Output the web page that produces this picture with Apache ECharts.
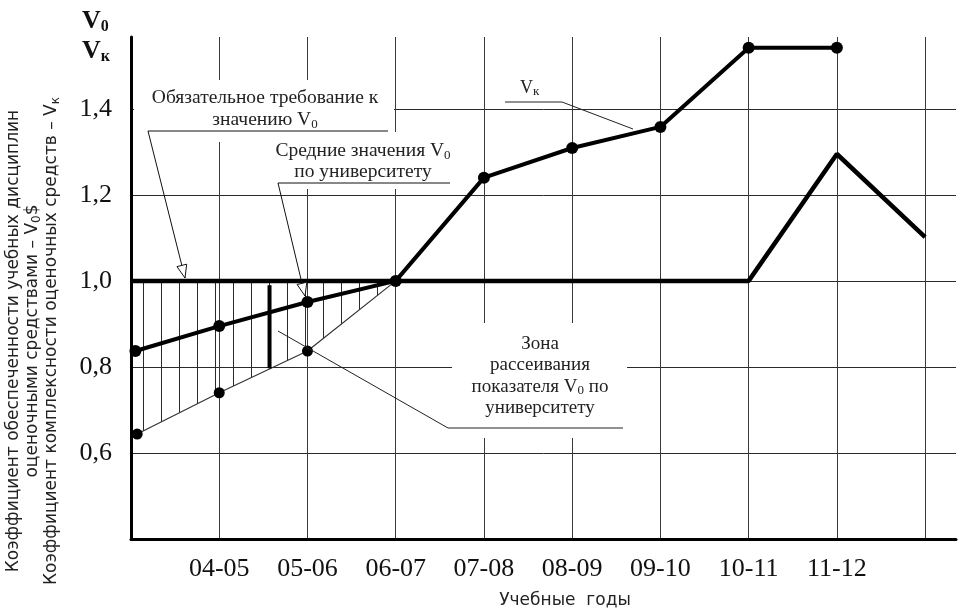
<!DOCTYPE html>
<html><head><meta charset="utf-8">
<script src="https://cdn.jsdelivr.net/npm/echarts@6/dist/echarts.min.js"></script>
<style>html,body{margin:0;padding:0;background:#fff}#c{width:959px;height:611px}</style>
</head><body><div id="c"></div>
<script>
// ---- data ----
const years = ['', '04-05', '05-06', '06-07', '07-08', '08-09', '09-10', '10-11', '11-12', ''];
const yTickValues = [0.6, 0.8, 1.0, 1.2, 1.4];
const yTickLabels = ['0,6', '0,8', '1,0', '1,2', '1,4'];
// average V0 by university (thick line with dots), continues as Vк
const avgIdx = [0.05, 1, 2, 3, 4, 5, 6, 7, 8];
const avgVal = [0.837, 0.895, 0.951, 1.0, 1.24, 1.309, 1.358, 1.542, 1.542];
// lower boundary of the scatter zone
const lowIdx = [0.07, 1, 2, 3];
const lowVal = [0.644, 0.74, 0.837, 1.0];
// required value of V0 and later V0 course
const reqIdx = [0, 7, 8, 9];
const reqVal = [1.0, 1.0, 1.295, 1.102];
// scatter range marker
const barIdx = [1.57, 1.57];
const barVal = [0.99, 0.797];
const zoneTop = 1.0;

const pairs = (xs, ys) => xs.map((x, i) => [x, ys[i]]);

const pc = document.createElement('canvas');
pc.width = 18; pc.height = 12;
const g = pc.getContext('2d');
g.fillStyle = '#2a2a2a';
g.fillRect(17, 0, 1, 12);

function head(x1, y1, x2, y2) {
  const dx = x2 - x1, dy = y2 - y1, L = Math.hypot(dx, dy);
  const ux = dx / L, uy = dy / L, len = 13, hw = 5;
  const bx = x2 - ux * len, by = y2 - uy * len;
  return [[x2, y2], [bx - uy * hw, by + ux * hw], [bx + uy * hw, by - ux * hw]];
}

const serif = '"Liberation Serif", "Times New Roman", serif';
const sans = '"DejaVu Sans", sans-serif';
const subRich = { s: { fontSize: 13, fontFamily: serif, verticalAlign: 'bottom', lineHeight: 15, fill: '#222' } };

const chart = echarts.init(document.getElementById('c'));
const graphics = [
  // white label boxes
  { type: 'rect', shape: { x: 134, y: 80, width: 260, height: 62 }, style: { fill: '#fff' }, z: 100 },
  { type: 'rect', shape: { x: 270, y: 132, width: 186, height: 57 }, style: { fill: '#fff' }, z: 100 },
  { type: 'rect', shape: { x: 452, y: 323, width: 175, height: 115 }, style: { fill: '#fff' }, z: 100 },
  // texts
  { type: 'text', x: 265, y: 98, z: 110, style: { text: 'Обязательное требование к', font: '19.5px ' + serif, fill: '#222', align: 'center', verticalAlign: 'middle' } },
  { type: 'text', x: 265, y: 120, z: 110, style: { text: 'значению V{s|0}', font: '19.5px ' + serif, fill: '#222', align: 'center', verticalAlign: 'middle', lineHeight: 23, rich: subRich } },
  { type: 'text', x: 363, y: 151, z: 110, style: { text: 'Средние значения V{s|0}', font: '19.5px ' + serif, fill: '#222', align: 'center', verticalAlign: 'middle', lineHeight: 23, rich: subRich } },
  { type: 'text', x: 363, y: 172, z: 110, style: { text: 'по университету', font: '19.5px ' + serif, fill: '#222', align: 'center', verticalAlign: 'middle' } },
  { type: 'text', x: 540, y: 376, z: 110, style: { text: 'Зона\nрассеивания\nпоказателя V{s|0} по\nуниверситету', font: '19px ' + serif, fill: '#222', align: 'center', verticalAlign: 'middle', lineHeight: 21.5, rich: subRich } },
  { type: 'text', x: 520, y: 88, z: 110, style: { text: 'V{s|к}', font: '18px ' + serif, fill: '#222', align: 'left', verticalAlign: 'middle', lineHeight: 20, rich: subRich } },
  // top-left V0 / Vк
  { type: 'text', x: 82, y: 21, z: 110, style: { text: 'V{b|0}', font: 'bold 26px ' + serif, fill: '#111', align: 'left', verticalAlign: 'middle', lineHeight: 28, rich: { b: { font: 'bold 16px ' + serif, verticalAlign: 'bottom', lineHeight: 16, fill: '#111' } } } },
  { type: 'text', x: 82, y: 51, z: 110, style: { text: 'V{b|к}', font: 'bold 26px ' + serif, fill: '#111', align: 'left', verticalAlign: 'middle', lineHeight: 28, rich: { b: { font: 'bold 16px ' + serif, verticalAlign: 'bottom', lineHeight: 16, fill: '#111' } } } },
  // y axis title
  { type: 'text', x: 33, y: 341, rotation: Math.PI / 2, z: 110, style: {
      text: 'Коэффициент обеспеченности учебных дисциплин\nоценочными средствами – V{t|0}$\nКоэффициент комплексности оценочных средств – V{t|к}',
      font: '17px ' + sans, fill: '#222', align: 'center', verticalAlign: 'middle', lineHeight: 19,
      rich: { t: { fontSize: 12, fontFamily: sans, verticalAlign: 'bottom', lineHeight: 13, fill: '#222' } } } },
  // x axis title
  { type: 'text', x: 565, y: 601, z: 110, style: { text: 'Учебные  годы', font: '17px ' + sans, fill: '#222', align: 'center', verticalAlign: 'middle' } },
  // leaders
  { type: 'polyline', z: 105, shape: { points: [[388, 131], [148, 131], [185, 278]] }, style: { stroke: '#111', lineWidth: 1, fill: null } },
  { type: 'polygon', z: 106, shape: { points: head(148, 131, 185, 278) }, style: { stroke: '#111', lineWidth: 1, fill: '#fff' } },
  { type: 'polyline', z: 105, shape: { points: [[450, 183], [278, 183], [305, 296]] }, style: { stroke: '#111', lineWidth: 1, fill: null } },
  { type: 'polygon', z: 106, shape: { points: head(278, 183, 305, 296) }, style: { stroke: '#111', lineWidth: 1, fill: '#fff' } },
  { type: 'polyline', z: 105, shape: { points: [[278, 331], [448, 428], [623, 428]] }, style: { stroke: '#222', lineWidth: 1, fill: null } },
  { type: 'polyline', z: 105, shape: { points: [[505, 102], [562, 102], [633, 129]] }, style: { stroke: '#222', lineWidth: 1, fill: null } }
];

chart.setOption({
  animation: false,
  backgroundColor: '#fff',
  grid: { left: 131, right: 0, top: 37, bottom: 72 },
  xAxis: {
    type: 'value', min: 0, max: 9.35, interval: 1,
    axisLine: { lineStyle: { color: '#000', width: 3 } },
    axisTick: { show: false },
    axisLabel: { formatter: v => years[v] || '', fontFamily: serif, fontSize: 26, color: '#111', margin: 17 },
    splitLine: { show: true, showMaxLine: false, lineStyle: { color: '#3a3a3a', width: 1 } }
  },
  yAxis: {
    type: 'value', min: 0.4, max: 1.567, interval: 0.2,
    axisLine: { show: true, lineStyle: { color: '#000', width: 3 } },
    axisTick: { show: false },
    axisLabel: {
      formatter: v => { const i = yTickValues.findIndex(t => Math.abs(t - v) < 1e-6); return i >= 0 ? yTickLabels[i] : ''; },
      fontFamily: serif, fontSize: 26, color: '#111', margin: 19
    },
    splitLine: { show: true, showMaxLine: false, lineStyle: { color: '#2a2a2a', width: 1 } }
  },
  series: [
    { type: 'line', data: pairs(lowIdx, lowVal), symbol: 'circle', symbolSize: 11, itemStyle: { color: '#000' },
      lineStyle: { color: '#333', width: 1.2 },
      areaStyle: { origin: zoneTop, color: { image: pc, repeat: 'repeat' }, opacity: 1 } },
    { type: 'line', data: pairs(reqIdx, reqVal), symbol: 'none', lineStyle: { color: '#000', width: 4.5 } },
    { type: 'line', data: pairs(avgIdx, avgVal), symbol: 'circle', symbolSize: 12, itemStyle: { color: '#000' }, lineStyle: { color: '#000', width: 4 } },
    { type: 'line', data: pairs(barIdx, barVal), symbol: 'none', lineStyle: { color: '#000', width: 4 } }
  ],
  graphic: graphics
});
</script></body></html>
